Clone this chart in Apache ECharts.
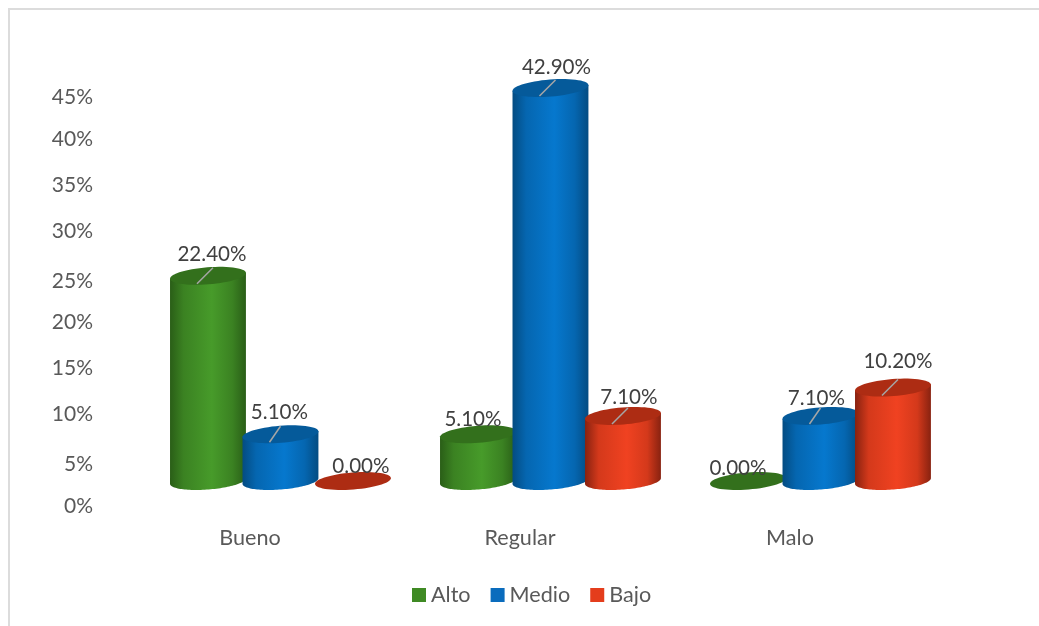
<!DOCTYPE html>
<html><head><meta charset="utf-8">
<style>html,body{margin:0;padding:0;background:#fff}#c{width:1039px;height:626px}</style>
<script src="https://cdn.jsdelivr.net/npm/echarts@6/dist/echarts.min.js"></script>
</head><body><div id="c"></div>
<script>
const categories = ['Bueno', 'Regular', 'Malo'];
const alto = [22.4, 5.1, 0];
const medio = [5.1, 42.9, 7.1];
const bajo = [0, 7.1, 10.2];
// where the reference puts its (unevenly spaced) tick labels on the 0-45 scale
const axisLabelSpots = [0, 4.62, 10.12, 15.18, 20.24, 24.75, 30.25, 35.3, 40.37, 45];

const FONT = 'Lato';
const palettes = {
  Alto:  { legend: '#3f8a24', top: '#33701c', edge: '#2a5e17', side: '#3b8222', mid: '#479b2a' },
  Medio: { legend: '#0a6cbd', top: '#055a9a', edge: '#044c82', side: '#0566b0', mid: '#0678ce' },
  Bajo:  { legend: '#e43d1c', top: '#ad2c13', edge: '#882210', side: '#d4391b', mid: '#f04221' }
};
// hand placement of the value labels relative to each cylinder's top [dx, dy]
const labelNudge = {
  Alto:  [[4, -21], [-5, -15], [-10, -13]],
  Medio: [[-1, -22], [6, -21], [-4, -18]],
  Bajo:  [[8, -15], [6, -19], [5, -26]]
};
const leaderNudge = { Alto: [true, false, false], Medio: [true, true, true], Bajo: [false, true, true] };

function ellipse(cx, cy, a, b, from, to) {
  const tilt = 4.5 * Math.PI / 180, pts = [];
  for (let i = 0; i <= 60; i++) {
    const t = from + (to - from) * i / 60;
    const x = a * Math.cos(t), y = b * Math.sin(t);
    pts.push([cx + x * Math.cos(tilt) + y * Math.sin(tilt), cy - x * Math.sin(tilt) + y * Math.cos(tilt)]);
  }
  return pts;
}

function cylinder(name, seriesIndex) {
  const pal = palettes[name];
  return function (params, api) {
    const v = api.value(1);
    const i = api.value(0);
    const base = api.coord([i, 0]);
    const top = api.coord([i, v]);
    const band = api.size([1, 0])[0];
    const cx = base[0] + 0.5 + ((seriesIndex - 1) * 0.2685 + 0.111) * band;
    const a = band * 0.141, b = 8.5;
    const nudge = labelNudge[name][i];
    const children = [];
    if (v > 0) {
      const lower = ellipse(cx, base[1], a, b, Math.PI, 0);
      const right = ellipse(cx, top[1], a, b, 0, 0);
      const left = ellipse(cx, top[1], a, b, Math.PI, Math.PI);
      children.push({
        type: 'polygon',
        shape: { points: lower.concat([right[0], left[0]]) },
        style: { fill: new echarts.graphic.LinearGradient(0, 0, 1, 0, [
          { offset: 0, color: pal.edge },
          { offset: 0.18, color: pal.side },
          { offset: 0.55, color: pal.mid },
          { offset: 0.82, color: pal.side },
          { offset: 1, color: pal.edge }
        ]) }
      });
    }
    children.push({
      type: 'polygon',
      shape: { points: ellipse(cx, top[1], a, b, 0, Math.PI * 2) },
      style: { fill: pal.top }
    });
    if (leaderNudge[name][i]) {
      children.push({
        type: 'line',
        shape: { x1: cx - 11, y1: top[1] + 8, x2: cx + (nudge[0] > 0 ? 5 : 0), y2: top[1] - 8 },
        style: { stroke: '#a6a6a6', lineWidth: 1.5 }
      });
    }
    children.push({
      type: 'text',
      z2: 10,
      style: {
        text: v.toFixed(2) + '%',
        x: cx + nudge[0],
        y: top[1] + nudge[1],
        align: 'center', verticalAlign: 'middle',
        font: '20.6px ' + FONT, fill: '#404040'
      }
    });
    return { type: 'group', children };
  };
}

function makeSeries(name, values, idx) {
  return {
    name, type: 'custom', xAxisIndex: 1, yAxisIndex: 1, z: 2 + idx,
    itemStyle: { color: palettes[name].legend },
    encode: { x: 0, y: 1 },
    data: values.map((v, i) => [i, v]),
    renderItem: cylinder(name, idx)
  };
}

const chart = echarts.init(document.getElementById('c'));
chart.setOption({
  animation: false,
  backgroundColor: '#fff',
  graphic: [{ type: 'polyline', silent: true,
    shape: { points: [[9, 626], [9, 9], [1039, 9]] },
    style: { stroke: '#dcdcdc', lineWidth: 2, fill: 'none' } }],
  grid: [
    { left: 115, right: 114, top: 97, bottom: 120 },
    { left: 115, right: 114, top: 41.3, bottom: 145 }
  ],
  xAxis: [
    { gridIndex: 0, type: 'category', show: false, data: categories },
    { gridIndex: 1, type: 'category', data: categories,
      axisLine: { show: false }, axisTick: { show: false },
      axisLabel: { margin: 46, fontFamily: FONT, fontSize: 21.6, color: '#595959' } }
  ],
  yAxis: [
    { gridIndex: 0, type: 'value', min: 0, max: 45, interval: 5,
      axisLine: { show: false }, axisTick: { show: false }, splitLine: { show: false },
      axisLabel: { margin: 22, customValues: axisLabelSpots,
        formatter: v => Math.round(v / 5) * 5 + '%',
        fontFamily: FONT, fontSize: 21, color: '#595959' } },
    { gridIndex: 1, type: 'value', min: 0, max: 48, show: false, splitLine: { show: false } }
  ],
  legend: {
    data: ['Alto', 'Medio', 'Bajo'], left: 407, top: 579, icon: 'rect',
    itemWidth: 14, itemHeight: 14, itemGap: 20,
    textStyle: { fontFamily: FONT, fontSize: 21.6, color: '#595959' }
  },
  series: [makeSeries('Alto', alto, 0), makeSeries('Medio', medio, 1), makeSeries('Bajo', bajo, 2)]
});
</script></body></html>
